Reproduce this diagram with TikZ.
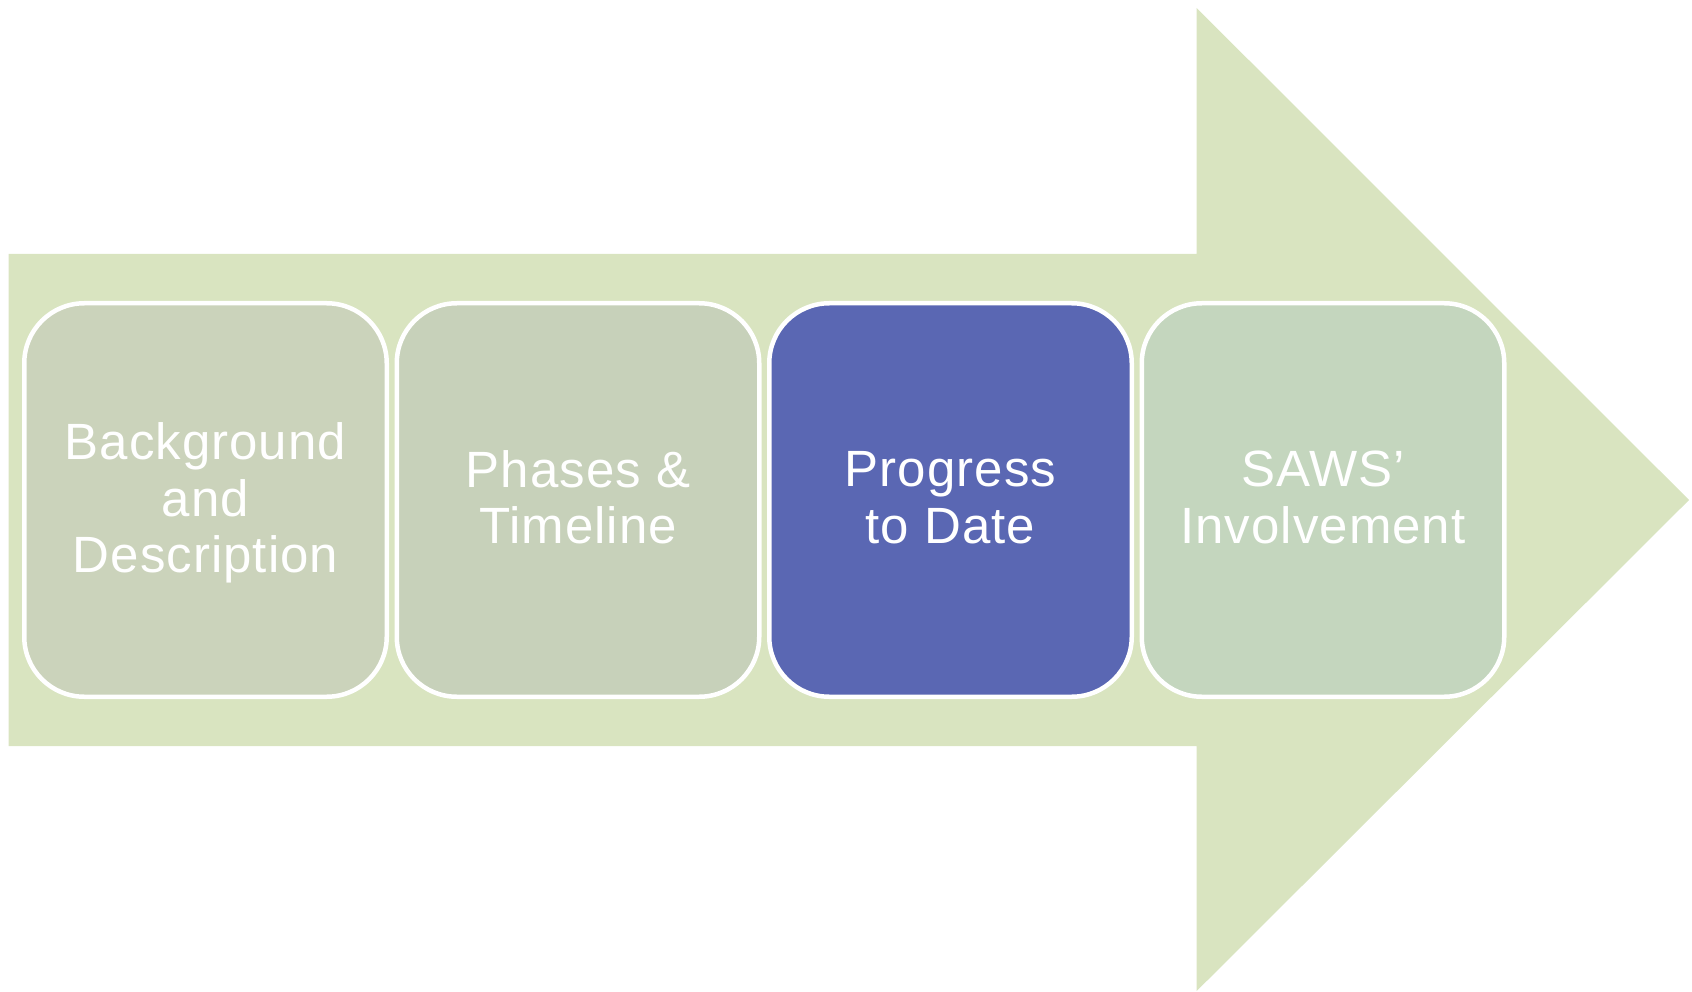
\documentclass[tikz,border=0pt]{standalone}
\usepackage{fontspec}
\setmainfont{Liberation Sans}[LetterSpace=2.0]
\definecolor{arrowfill}{RGB}{217,228,192}
\definecolor{cone}{RGB}{203,211,187}
\definecolor{ctwo}{RGB}{199,209,186}
\definecolor{cthree}{RGB}{90,103,179}
\definecolor{cfour}{RGB}{196,214,190}
\tikzset{
  stagebox/.style={rectangle, draw=white, line width=4.5pt, rounded corners=60pt,
    minimum width=362.5pt, minimum height=393.5pt, inner sep=0pt},
  stagetext/.style={text=white, align=center, font=\fontsize{51}{56.5}\selectfont},
  bigarrow/.style={fill=arrowfill, draw=none}
}
\begin{document}
\begin{tikzpicture}[x=1pt,y=-1pt]
\useasboundingbox (0,0) rectangle (1692,992);
\fill[bigarrow] (8.7,254) -- (1196.7,254) -- (1196.7,8) -- (1689,500) -- (1196.7,991) -- (1196.7,746) -- (8.7,746) -- cycle;
\node[stagebox, fill=cone] (b1) at (205.5,500) {};
\node[stagebox, fill=ctwo] (b2) at (578,500) {};
\node[stagebox, fill=cthree] (b3) at (950.5,500) {};
\node[stagebox, fill=cfour] (b4) at (1323,500) {};
\node[stagetext] (t1) at ([yshift=-3pt]b1.center) {Background\\and\\Description};
\node[stagetext] (t2) at ([yshift=2.5pt]b2.center) {Phases \&\\Timeline};
\node[stagetext] (t3) at ([yshift=2.5pt]b3.center) {Progress\\to Date};
\node[stagetext] (t4) at ([yshift=2.5pt]b4.center) {SAWS’\\Involvement};
\end{tikzpicture}
\end{document}
